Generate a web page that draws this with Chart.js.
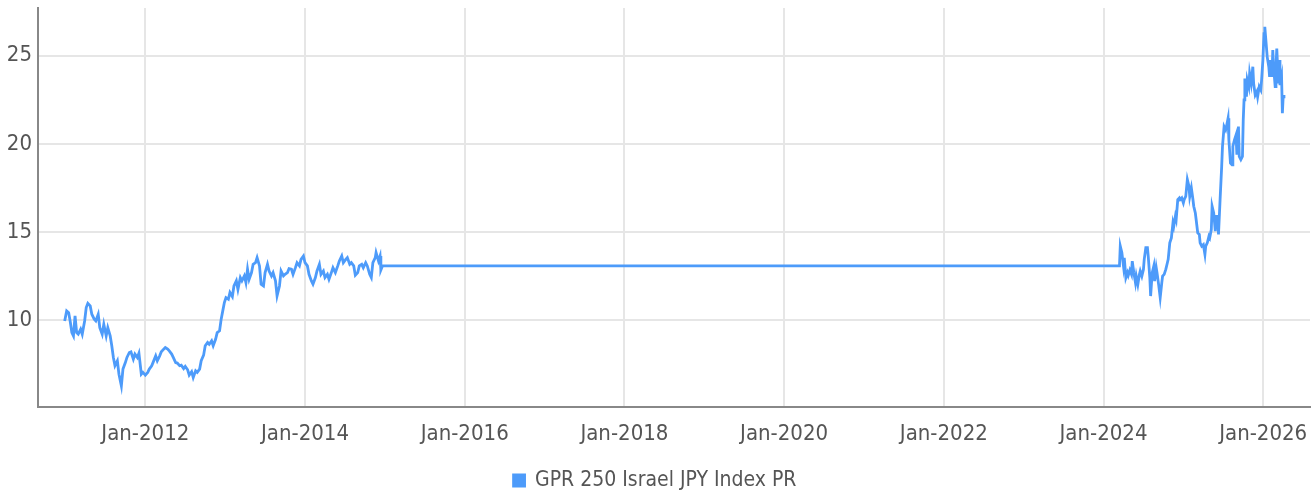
<!DOCTYPE html>
<html>
<head>
<meta charset="utf-8">
<script src="https://cdn.jsdelivr.net/npm/chart.js@4.4.1/dist/chart.umd.min.js"></script>
<style>
  html, body { margin: 0; padding: 0; background: #fff; }
</style>
</head>
<body>
<canvas id="chart" width="1316" height="493"></canvas>
<script>
// --- data (decimal years / index level) ---
const SERIES_LABEL = 'GPR 250 Israel JPY Index PR';

// 2011 - 2014
const YEARS_A = [
  2010.99, 2011.015, 2011.04, 2011.06, 2011.08, 2011.10, 2011.12, 2011.14, 2011.16, 2011.19,
  2011.21, 2011.24, 2011.26, 2011.28, 2011.31, 2011.33, 2011.36, 2011.38, 2011.41, 2011.43,
  2011.46, 2011.48, 2011.51, 2011.53, 2011.56, 2011.58, 2011.60, 2011.62, 2011.65, 2011.67,
  2011.70, 2011.72, 2011.75, 2011.77, 2011.80, 2011.82, 2011.85, 2011.87, 2011.90, 2011.92,
  2011.95, 2011.97, 2012.00, 2012.03, 2012.05, 2012.08, 2012.10, 2012.13, 2012.15, 2012.18,
  2012.20, 2012.23, 2012.25, 2012.28, 2012.30, 2012.33, 2012.35, 2012.38, 2012.40, 2012.43,
  2012.45, 2012.48, 2012.50, 2012.53, 2012.55, 2012.58, 2012.60, 2012.63, 2012.65, 2012.68,
  2012.70, 2012.73, 2012.75, 2012.78, 2012.80, 2012.83, 2012.85, 2012.88, 2012.90, 2012.93,
  2012.95, 2012.97, 2012.99, 2013.01, 2013.04, 2013.06, 2013.09, 2013.11, 2013.14, 2013.16,
  2013.19, 2013.21, 2013.24, 2013.26, 2013.28, 2013.30, 2013.33, 2013.35, 2013.38, 2013.40,
  2013.43, 2013.45, 2013.48, 2013.50, 2013.53, 2013.55, 2013.58, 2013.60, 2013.63, 2013.65,
  2013.68, 2013.70, 2013.73, 2013.75, 2013.78, 2013.80, 2013.83, 2013.85, 2013.88, 2013.90,
  2013.93, 2013.95, 2013.98, 2014.00, 2014.03, 2014.05, 2014.08, 2014.10, 2014.13, 2014.15,
  2014.18, 2014.20, 2014.23, 2014.25, 2014.28, 2014.30, 2014.33, 2014.35, 2014.38, 2014.41,
  2014.43, 2014.46, 2014.48, 2014.51, 2014.53, 2014.56, 2014.58, 2014.61, 2014.63, 2014.66,
  2014.68, 2014.71, 2014.73, 2014.76, 2014.78, 2014.81, 2014.83, 2014.85, 2014.88, 2014.89,
  2014.92, 2014.94, 2014.95, 2014.97
];
const VALUES_A = [
  9.96, 10.53, 10.43, 9.91, 9.30, 9.11, 10.25, 9.30, 9.21, 9.49,
  9.21, 9.96, 10.72, 10.96, 10.81, 10.34, 10.06, 9.96, 10.34, 9.58,
  9.21, 9.77, 9.11, 9.58, 9.11, 8.55, 7.89, 7.42, 7.70, 6.94,
  6.28, 7.23, 7.60, 7.89, 8.17, 8.21, 7.79, 8.08, 7.89, 8.13,
  6.94, 7.04, 6.89, 7.04, 7.23, 7.42, 7.64, 7.98, 7.70, 7.98,
  8.21, 8.36, 8.45, 8.36, 8.26, 8.08, 7.89, 7.60, 7.57, 7.42,
  7.45, 7.26, 7.38, 7.19, 6.89, 7.08, 6.75, 7.13, 7.04, 7.23,
  7.70, 8.02, 8.55, 8.74, 8.64, 8.83, 8.55, 8.92, 9.30, 9.40,
  10.06, 10.53, 11.00, 11.28, 11.19, 11.57, 11.34, 11.94, 12.23, 11.75,
  12.42, 12.23, 12.51, 12.13, 12.89, 12.32, 12.70, 13.17, 13.26, 13.55,
  13.08, 12.04, 11.94, 12.70, 13.17, 12.79, 12.51, 12.70, 12.23, 11.38,
  11.94, 12.79, 12.51, 12.60, 12.70, 12.92, 12.89, 12.60, 12.98, 13.26,
  13.08, 13.45, 13.64, 13.26, 13.08, 12.60, 12.23, 12.04, 12.42, 12.79,
  13.17, 12.60, 12.79, 12.42, 12.60, 12.32, 12.70, 12.98, 12.70, 13.08,
  13.36, 13.64, 13.26, 13.45, 13.55, 13.17, 13.26, 13.08, 12.55, 12.70,
  13.08, 13.17, 12.98, 13.26, 13.08, 12.60, 12.42, 13.26, 13.55, 13.83,
  13.36, 13.64, 12.85, 13.08
];

// 2024 - 2026 (first point closes the flat stretch)
const YEARS_B = [
  2024.20, 2024.21, 2024.23, 2024.25, 2024.26, 2024.28, 2024.30, 2024.31, 2024.33, 2024.35,
  2024.36, 2024.38, 2024.40, 2024.41, 2024.43, 2024.45, 2024.46, 2024.48, 2024.50, 2024.51,
  2024.53, 2024.55, 2024.56, 2024.58, 2024.59, 2024.61, 2024.63, 2024.64, 2024.66, 2024.67,
  2024.69, 2024.71, 2024.73, 2024.74, 2024.76, 2024.78, 2024.80, 2024.81, 2024.83, 2024.85,
  2024.87, 2024.88, 2024.90, 2024.91, 2024.93, 2024.95, 2024.96, 2024.98, 2025.00, 2025.01,
  2025.03, 2025.05, 2025.07, 2025.08, 2025.10, 2025.12, 2025.13, 2025.15, 2025.16, 2025.18,
  2025.20, 2025.21, 2025.23, 2025.25, 2025.27, 2025.28, 2025.30, 2025.32, 2025.33, 2025.35,
  2025.36, 2025.38, 2025.40, 2025.41, 2025.43, 2025.44, 2025.46, 2025.48, 2025.49, 2025.51,
  2025.53, 2025.54, 2025.56, 2025.57, 2025.59, 2025.61, 2025.62, 2025.64, 2025.66, 2025.67,
  2025.69, 2025.70, 2025.72, 2025.74, 2025.75, 2025.76, 2025.77, 2025.79, 2025.80, 2025.82,
  2025.83, 2025.85, 2025.87, 2025.88, 2025.90, 2025.92, 2025.93, 2025.95, 2025.97, 2025.98,
  2025.996, 2026.01, 2026.02, 2026.03, 2026.04, 2026.05, 2026.07, 2026.08, 2026.09, 2026.11,
  2026.12, 2026.13, 2026.15, 2026.16, 2026.17, 2026.19, 2026.20, 2026.21, 2026.23, 2026.24,
  2026.25, 2026.26
];
const VALUES_B = [
  13.08, 14.20, 13.82, 13.07, 13.54, 12.41, 12.69, 12.54, 12.84, 12.60,
  13.35, 12.69, 12.13, 12.50, 12.03, 12.60, 12.79, 12.50, 12.88, 13.45,
  14.11, 14.11, 13.63, 12.41, 11.37, 12.69, 13.07, 12.22, 12.98, 12.69,
  12.03, 11.28, 12.13, 12.50, 12.60, 12.88, 13.26, 13.45, 14.39, 14.67,
  15.52, 15.33, 15.89, 15.71, 16.84, 16.93, 16.84, 16.93, 16.65, 16.84,
  17.02, 17.97, 17.59, 17.02, 17.50, 16.84, 16.46, 16.08, 15.71, 14.95,
  14.86, 14.39, 14.20, 14.29, 13.73, 14.20, 14.39, 14.76, 14.67, 15.14,
  16.46, 16.08, 15.05, 15.89, 15.89, 14.86, 16.84, 18.72, 19.85, 20.98,
  20.79, 20.98, 21.45, 20.23, 18.91, 18.81, 19.85, 20.23, 20.51, 19.38,
  20.98, 19.28, 19.10, 19.28, 21.36, 22.49, 23.71, 22.67, 23.62, 23.24,
  23.99, 23.43, 24.37, 23.43, 22.77, 22.96, 22.67, 23.24, 23.05, 23.62,
  24.75, 26.25, 26.63, 26.06, 25.50, 24.93, 24.37, 23.80, 24.75, 23.80,
  25.31, 24.37, 23.24, 24.37, 25.40, 23.43, 24.75, 23.33, 23.80, 21.73,
  22.67, 22.77
];

const X_TICKS = [2012, 2014, 2016, 2018, 2020, 2022, 2024, 2026];
const X_TICK_LABELS = ['Jan-2012', 'Jan-2014', 'Jan-2016', 'Jan-2018', 'Jan-2020', 'Jan-2022', 'Jan-2024', 'Jan-2026'];
const Y_TICKS = [10, 15, 20, 25];

// --- build ---
const FONT = "'DejaVu Sans Condensed', 'DejaVu Sans', sans-serif";
const BLUE = '#4d9bfa';
const points = YEARS_A.map((x, i) => ({ x, y: VALUES_A[i] }))
  .concat(YEARS_B.map((x, i) => ({ x, y: VALUES_B[i] })));

new Chart(document.getElementById('chart'), {
  type: 'line',
  data: {
    datasets: [{
      label: SERIES_LABEL,
      data: points,
      borderColor: BLUE,
      backgroundColor: BLUE,
      borderWidth: 2.8,
      pointRadius: 0,
      tension: 0,
    }],
  },
  options: {
    responsive: false,
    animation: false,
    layout: { padding: { top: 8, right: 6, left: 0, bottom: -8 } },
    plugins: {
      legend: {
        position: 'bottom',
        labels: {
          font: { family: FONT, size: 21 },
          color: '#555',
          boxWidth: 11,
          boxHeight: 11,
          padding: 4,
        },
      },
      tooltip: { enabled: false },
    },
    scales: {
      x: {
        type: 'linear',
        min: 2010.656,
        max: 2026.586,
        afterBuildTicks: (axis) => { axis.ticks = X_TICKS.map((v) => ({ value: v })); },
        afterFit: (axis) => {
          axis.height = 59;
          axis.paddingLeft = 0;
          axis.paddingRight = 0;
        },
        ticks: {
          autoSkip: false,
          maxRotation: 0,
          padding: 14,
          color: '#555',
          font: { family: FONT, size: 22 },
          callback: (v) => X_TICK_LABELS[X_TICKS.indexOf(v)],
        },
        grid: { color: '#e6e6e6', lineWidth: 2, drawTicks: false },
        border: { display: true, color: '#888', width: 2 },
      },
      y: {
        min: 5.08,
        max: 27.7,
        afterBuildTicks: (axis) => { axis.ticks = Y_TICKS.map((v) => ({ value: v })); },
        afterFit: (axis) => {
          axis.width = 38;
          axis.paddingTop = 0;
          axis.paddingBottom = 0;
        },
        ticks: {
          padding: 6,
          color: '#555',
          font: { family: FONT, size: 22 },
        },
        grid: { color: '#e6e6e6', lineWidth: 2, drawTicks: false },
        border: { display: true, color: '#888', width: 2 },
      },
    },
  },
});
</script>
</body>
</html>
